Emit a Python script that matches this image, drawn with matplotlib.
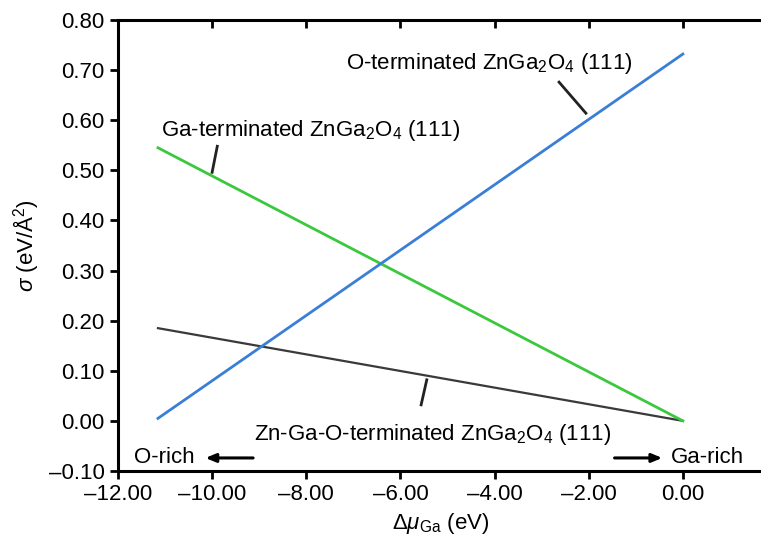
"""ZnGa2O4 (111) surface energy vs. Ga chemical potential."""

import matplotlib
matplotlib.use("Agg")
import matplotlib.pyplot as plt
from matplotlib.ticker import FuncFormatter

plt.rcParams["font.family"] = ["Liberation Sans", "DejaVu Sans"]
plt.rcParams["mathtext.fontset"] = "custom"
plt.rcParams["mathtext.rm"] = "Liberation Sans"
plt.rcParams["mathtext.it"] = "Liberation Sans:italic"

# endpoints: (delta mu_Ga, sigma)
mu_range = [-11.15, 0.0]
sigma_o_term = [0.005, 0.732]
sigma_ga_term = [0.545, 0.0]
sigma_zngao_term = [0.185, 0.0]

x_ticks = [-12, -10, -8, -6, -4, -2, 0]
y_ticks = [-0.1, 0.0, 0.1, 0.2, 0.3, 0.4, 0.5, 0.6, 0.7, 0.8]

FONT = 16


def dash_fmt(value, _pos):
    return f"{value:.2f}".replace("-", "\u2013")


fig = plt.figure(figsize=(7.61, 5.46), dpi=100)
ax = fig.add_axes((0.155, 0.1374, 0.8475, 0.826))

ax.plot(mu_range, sigma_zngao_term, color="#3a3a3a", linewidth=1.6)
ax.plot(mu_range, sigma_ga_term, color="#3cc83c", linewidth=2.0)
ax.plot(mu_range, sigma_o_term, color="#3a7fd6", linewidth=2.0)

ax.set_xlim(-12.0, 1.7)
ax.set_ylim(-0.10, 0.80)
ax.set_xticks(x_ticks)
ax.set_yticks(y_ticks)
ax.xaxis.set_major_formatter(FuncFormatter(dash_fmt))
ax.yaxis.set_major_formatter(FuncFormatter(dash_fmt))
ax.tick_params(axis="both", labelsize=FONT, width=2, length=6, direction="out",
               top=True, right=True)
for spine in ax.spines.values():
    spine.set_linewidth(2.2)

# inward ticks on top/right
for tick in ax.xaxis.get_major_ticks():
    tick.tick2line.set_marker(3)
    tick.tick2line.set_markersize(6)
for tick in ax.yaxis.get_major_ticks():
    tick.tick2line.set_marker(1)
    tick.tick2line.set_markersize(6)

ax.set_xlabel(r"$\Delta\mathit{\mu}_{\mathrm{Ga}}$ (eV)", fontsize=FONT, labelpad=4)
ax.set_ylabel(r"$\mathit{\sigma}$ (eV/Å$^2$)", fontsize=FONT, labelpad=6)

label_style = dict(fontsize=FONT, ha="center", va="center")
ax.text(-4.12, 0.714, r"O-terminated ZnGa$_2$O$_4$ (111)", **label_style)
ax.text(-7.92, 0.58, r"Ga-terminated ZnGa$_2$O$_4$ (111)", **label_style)
ax.text(-5.31, -0.028, r"Zn-Ga-O-terminated ZnGa$_2$O$_4$ (111)", **label_style)

leader = dict(color="#222222", linewidth=2.0)
ax.plot([-2.63, -2.06], [0.676, 0.614], **leader)
ax.plot([-9.89, -10.0], [0.548, 0.496], **leader)
ax.plot([-5.44, -5.56], [0.082, 0.032], **leader)

ax.text(-11.66, -0.074, "O-rich", fontsize=FONT, ha="left", va="center")
ax.text(-0.25, -0.074, "Ga-rich", fontsize=FONT, ha="left", va="center")
arrow = dict(arrowstyle="-|>,head_length=0.6,head_width=0.25", color="black", linewidth=2.2)
ax.annotate("", xy=(-10.2, -0.074), xytext=(-9.07, -0.074), arrowprops=arrow)
ax.annotate("", xy=(-0.38, -0.074), xytext=(-1.51, -0.074), arrowprops=arrow)

fig.savefig("out.png", dpi=100)
